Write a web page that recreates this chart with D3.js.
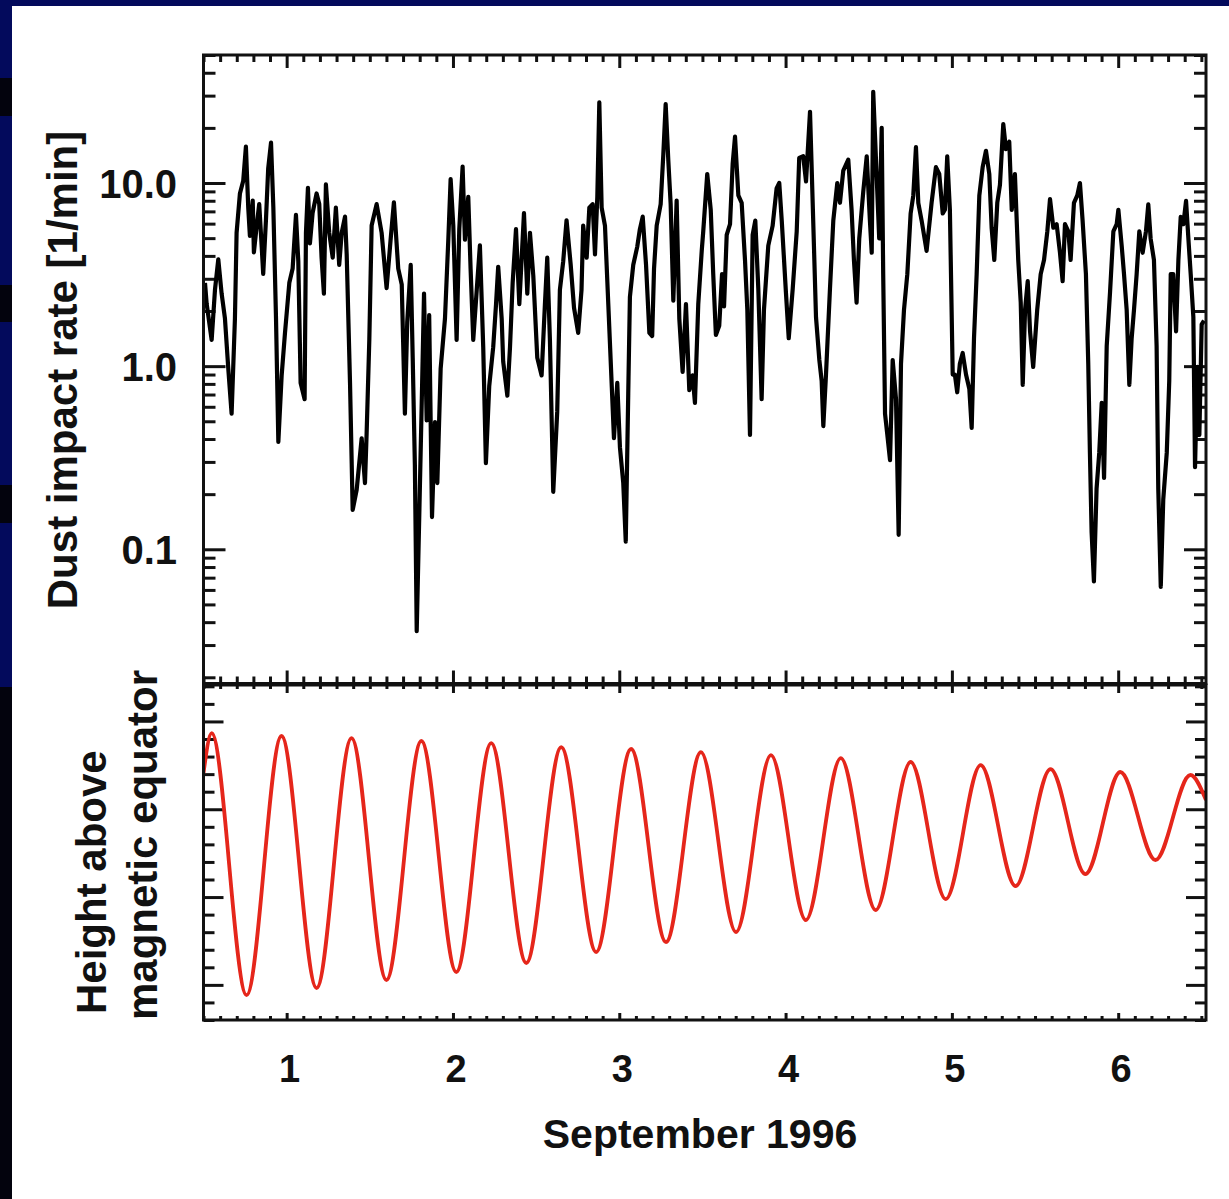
<!DOCTYPE html>
<html>
<head>
<meta charset="utf-8">
<script src="https://cdn.jsdelivr.net/npm/d3@7"></script>
<style>
  body { margin: 0; background: #030a5c; }
  svg { display: block; }
  text { font-family: "Liberation Sans", Arial, Helvetica, sans-serif; font-weight: bold; fill: #111; }
</style>
</head>
<body>
<div id="chart"></div>
<script>
/* dust impact rate (day of September 1996, impacts per minute) */
var dustDay = [0.509,0.519,0.549,0.569,0.589,0.609,0.629,0.649,0.669,0.689,0.699,0.719,0.739,0.755,0.769,0.779,0.796,0.803,0.820,0.835,
  0.850,0.859,0.876,0.889,0.906,0.920,0.936,0.950,0.970,0.990,1.016,1.036,1.056,1.070,1.084,1.108,1.116,1.128,1.140,1.156,
  1.180,1.196,1.210,1.224,1.236,1.256,1.277,1.296,1.316,1.331,1.351,1.361,1.381,1.397,1.421,1.451,1.471,1.481,1.497,1.511,
  1.541,1.571,1.601,1.625,1.645,1.671,1.692,1.711,1.725,1.746,1.758,1.771,1.782,1.797,1.812,1.826,1.842,1.857,1.874,1.892,
  1.906,1.926,1.952,1.972,1.986,2.002,2.022,2.038,2.058,2.072,2.092,2.106,2.122,2.143,2.162,2.182,2.198,2.218,2.242,2.259,
  2.272,2.293,2.302,2.327,2.343,2.359,2.379,2.399,2.427,2.447,2.463,2.483,2.507,2.533,2.553,2.567,2.583,2.603,2.627,2.643,
  2.663,2.683,2.708,2.728,2.753,2.773,2.783,2.804,2.820,2.840,2.854,2.868,2.880,2.894,2.914,2.934,2.954,2.968,2.988,3.004,
  3.024,3.039,3.054,3.064,3.084,3.108,3.124,3.141,3.161,3.181,3.198,3.209,3.225,3.249,3.265,3.279,3.295,3.309,3.325,3.345,
  3.361,3.381,3.401,3.421,3.441,3.455,3.475,3.496,3.505,3.529,3.550,3.565,3.581,3.601,3.618,3.630,3.646,3.666,3.682,3.696,
  3.716,3.736,3.756,3.770,3.786,3.802,3.818,3.836,3.856,3.870,3.896,3.922,3.946,3.962,3.977,4.002,4.019,4.043,4.067,4.082,
  4.106,4.123,4.147,4.163,4.183,4.203,4.217,4.227,4.243,4.267,4.287,4.311,4.327,4.347,4.377,4.397,4.411,4.427,4.443,4.467,
  4.488,4.507,4.518,4.527,4.548,4.563,4.578,4.587,4.598,4.612,4.628,4.644,4.664,4.680,4.694,4.712,4.732,4.752,4.768,4.784,
  4.798,4.818,4.848,4.878,4.904,4.924,4.945,4.958,4.972,4.988,5.005,5.018,5.032,5.048,5.065,5.085,5.105,5.119,5.133,5.149,
  5.165,5.185,5.205,5.225,5.239,5.255,5.273,5.289,5.309,5.325,5.345,5.360,5.379,5.399,5.414,5.426,5.440,5.456,5.470,5.489,
  5.513,5.534,5.554,5.574,5.590,5.610,5.630,5.650,5.666,5.680,5.700,5.714,5.734,5.754,5.770,5.786,5.806,5.820,5.830,5.840,
  5.854,5.870,5.886,5.901,5.915,5.931,5.951,5.971,5.991,6.001,6.021,6.035,6.051,6.067,6.081,6.095,6.111,6.127,6.147,6.167,
  6.181,6.195,6.215,6.231,6.241,6.256,6.271,6.292,6.307,6.316,6.331,6.348,6.362,6.376,6.392,6.408,6.422,6.436,6.452,6.462,
  6.476,6.488,6.502,6.516];
var dustRate = [2.85,2.19,1.39,2.61,3.83,2.49,1.82,0.97,0.55,1.82,5.35,8.77,10.3,15.8,7.33,5.14,8.02,4.18,5.86,7.67,
  4.48,3.19,6.41,12.0,16.6,7.33,1.82,0.386,0.89,1.52,2.85,3.41,6.70,3.74,0.81,0.66,5.35,9.40,4.68,6.86,
  8.77,7.67,3.91,2.49,9.82,5.35,3.91,7.33,3.57,5.35,6.55,4.08,0.81,0.164,0.211,0.404,0.230,0.432,1.39,5.86,
  7.67,5.35,2.67,4.90,7.85,3.41,2.79,0.55,1.74,3.57,1.11,0.288,0.0357,0.147,0.62,2.49,0.506,1.90,0.150,0.495,
  0.230,0.97,1.82,4.90,10.5,5.86,1.39,5.60,12.3,4.90,8.40,3.41,1.39,2.61,4.57,1.27,0.295,0.776,1.27,2.18,
  3.49,1.82,1.06,0.69,1.27,2.85,5.60,2.18,6.86,2.49,5.35,3.12,1.11,0.89,2.18,3.91,1.39,0.206,0.566,2.61,
  3.74,6.26,3.57,2.08,1.52,2.61,5.86,3.91,7.33,7.67,4.08,8.40,27.6,7.33,5.86,2.18,0.81,0.404,0.81,0.361,
  0.230,0.110,0.71,2.39,3.57,4.48,5.60,6.55,3.57,1.52,1.46,3.41,5.86,7.67,14.4,27.0,13.2,7.67,2.28,8.02,
  1.82,0.93,2.18,0.74,0.89,0.63,2.18,4.28,5.45,11.2,7.14,3.18,1.48,1.66,3.18,2.12,5.21,5.96,12.8,17.9,
  8.55,7.80,3.80,2.03,0.421,5.21,6.24,2.65,0.66,2.03,4.55,5.83,9.34,10.0,6.24,2.54,1.42,2.65,5.45,13.7,
  14.0,10.2,24.5,7.80,1.85,1.08,0.83,0.471,0.90,2.65,6.24,10.0,7.80,11.7,13.4,7.14,3.80,2.22,4.98,8.94,
  14.0,6.24,4.16,31.5,10.7,4.98,20.0,3.18,0.55,0.421,0.307,1.08,0.66,0.120,1.03,2.03,3.18,6.82,8.55,15.7,
  7.80,6.24,4.26,7.80,12.2,11.2,6.82,7.14,14.0,7.14,0.90,0.90,0.72,1.03,1.18,0.90,0.75,0.46,1.42,3.18,
  8.55,12.2,15.0,11.2,5.70,3.80,7.80,9.77,21.0,15.3,16.8,7.14,11.2,3.80,2.22,0.79,2.03,2.91,1.55,0.99,
  2.03,3.18,3.80,5.45,8.17,5.70,5.96,4.16,2.91,5.96,5.45,3.80,7.80,8.55,10.0,6.24,3.18,1.03,0.336,0.125,
  0.0667,0.214,0.336,0.63,0.245,1.29,2.54,5.45,5.96,7.14,4.55,3.18,2.03,0.79,1.42,2.03,3.18,5.45,4.16,5.45,
  7.64,4.98,3.80,1.29,0.214,0.0623,0.187,0.336,0.83,3.18,3.18,1.55,3.80,6.53,5.96,7.98,4.98,3.18,1.85,0.281,
  0.99,0.421,1.69,1.77];

/* height above the magnetic equator (no units shown): turning points of the red curve */
var heightDay = [0.500,0.549,0.759,0.969,1.180,1.390,1.600,1.810,2.020,2.230,2.441,2.651,2.861,3.071,3.281,3.491,
  3.702,3.912,4.122,4.332,4.542,4.752,4.963,5.173,5.383,5.593,5.803,6.013,6.224,6.434,6.528];
var heightVal = [0.412,0.868,-2.116,0.834,-2.036,0.811,-1.945,0.777,-1.854,0.754,-1.751,0.708,-1.626,0.686,-1.512,0.651,
  -1.399,0.617,-1.262,0.583,-1.148,0.538,-1.023,0.503,-0.875,0.458,-0.738,0.424,-0.578,0.390,0.105];

var dayTicks = [1, 2, 3, 4, 5, 6];
var rateTicks = [0.1, 1, 10];
var rateLabels = ["0.1", "1.0", "10.0"];
var heightTicks = [-2, -1, 0, 1];

var W = 1229, H = 1199;
var left = 203.5, right = 1206;
var top1 = 55, bot1 = 683.5, top2 = 685, bot2 = 1020;

var svg = d3.select("#chart").append("svg")
    .attr("width", W).attr("height", H);

/*Slide background: navy frame with dark marks on the left edge*/
svg.append("rect").attr("width", W).attr("height", H).attr("fill", "#030a5c");
[[78, 116], [285, 322], [485, 523], [687, 1199]].forEach(function(s){
    svg.append("rect").attr("x", 0).attr("y", s[0]).attr("width", 12).attr("height", s[1]-s[0]).attr("fill", "#03030d");
});
svg.append("rect").attr("x", 12).attr("y", 6).attr("width", W-12).attr("height", H-6).attr("fill", "#fff");

/*Scales*/
var x = d3.scaleLinear().domain([0.5, 6.528]).range([left, right]);
var yRate = d3.scaleLog().domain([0.0185, 50]).range([bot1, top1]);
var yHeight = d3.scaleLinear().domain([-2.4, 1.415]).range([bot2, top2]);

var dayMinor = d3.range(5, 66).map(function(i){ return i/10; }).filter(function(d){ return d % 1 !== 0; });
var rateMinor = [];
[0.01, 0.1, 1, 10].forEach(function(p){
    for (var k = 2; k <= 9; k++) {
        var v = k*p;
        if (v >= 0.0185 && v <= 50.01) rateMinor.push(v);
    }
});
var heightMinor = d3.range(-12, 8).map(function(i){ return i/5; }).filter(function(d){ return Math.abs(d - Math.round(d)) > 1e-6; });

/*Tick helper: inward ticks, no domain line*/
function ticks(axis, values, size, tx, ty) {
    var g = svg.append("g")
        .attr("transform", "translate(" + tx + "," + ty + ")")
        .call(axis.tickValues(values).tickSize(size).tickFormat(""));
    g.select(".domain").remove();
    g.selectAll(".tick line").attr("stroke", "#111").attr("stroke-width", 3);
    return g;
}

/*Top panel axes*/
ticks(d3.axisLeft(yRate), rateTicks, -22, left, 0);
ticks(d3.axisLeft(yRate), rateMinor, -12, left, 0);
ticks(d3.axisRight(yRate), rateTicks, -22, right, 0);
ticks(d3.axisRight(yRate), rateMinor, -12, right, 0);
ticks(d3.axisTop(x), dayTicks, -13, 0, top1);
ticks(d3.axisTop(x), dayMinor, -7, 0, top1);
ticks(d3.axisBottom(x), dayTicks, -13, 0, bot1);
ticks(d3.axisBottom(x), dayMinor, -7, 0, bot1);

/*Bottom panel axes*/
ticks(d3.axisLeft(yHeight), heightTicks, -20, left, 0);
ticks(d3.axisLeft(yHeight), heightMinor, -11, left, 0);
ticks(d3.axisRight(yHeight), heightTicks, -20, right, 0);
ticks(d3.axisRight(yHeight), heightMinor, -11, right, 0);
ticks(d3.axisTop(x), dayTicks, -8, 0, top2);
ticks(d3.axisTop(x), dayMinor, -4, 0, top2);
ticks(d3.axisBottom(x), dayTicks, -7, 0, bot2);
ticks(d3.axisBottom(x), dayMinor, -4, 0, bot2);

/*Tick labels*/
svg.append("g").selectAll("text")
    .data(rateTicks)
    .join("text")
    .attr("x", 177)
    .attr("y", function(d){ return yRate(d) + 15; })
    .attr("text-anchor", "end")
    .attr("font-size", 40)
    .text(function(d, i){ return rateLabels[i]; });

svg.append("g").selectAll("text")
    .data(dayTicks)
    .join("text")
    .attr("x", function(d){ return x(d) + 3; })
    .attr("y", 1082)
    .attr("text-anchor", "middle")
    .attr("font-size", 38)
    .text(function(d){ return d; });

/*Axis titles*/
svg.append("text")
    .attr("transform", "translate(77,370) rotate(-90)")
    .attr("text-anchor", "middle")
    .attr("font-size", 42)
    .text("Dust impact rate [1/min]");
svg.append("text")
    .attr("transform", "translate(106,1014) rotate(-90)")
    .attr("font-size", 42)
    .text("Height above");
svg.append("text")
    .attr("transform", "translate(157,1020) rotate(-90)")
    .attr("font-size", 42)
    .text("magnetic equator");
svg.append("text")
    .attr("x", 700).attr("y", 1148)
    .attr("text-anchor", "middle")
    .attr("font-size", 41)
    .text("September 1996");

/*Data lines*/
svg.append("clipPath").attr("id", "clip1")
    .append("rect").attr("x", left).attr("y", top1).attr("width", right-left).attr("height", bot1-top1);
svg.append("clipPath").attr("id", "clip2")
    .append("rect").attr("x", left).attr("y", top2).attr("width", right-left).attr("height", bot2-top2);

var dustLine = d3.line()
    .x(function(d, i){ return x(dustDay[i]); })
    .y(function(d, i){ return yRate(dustRate[i]); });
svg.append("path")
    .attr("clip-path", "url(#clip1)")
    .attr("fill", "none")
    .attr("stroke", "#000")
    .attr("stroke-width", 4.2)
    .attr("stroke-linejoin", "round")
    .attr("d", dustLine(dustDay));

var heightLine = d3.line()
    .curve(d3.curveMonotoneX)
    .x(function(d, i){ return x(heightDay[i]); })
    .y(function(d, i){ return yHeight(heightVal[i]); });
svg.append("path")
    .attr("clip-path", "url(#clip2)")
    .attr("fill", "none")
    .attr("stroke", "#e5261b")
    .attr("stroke-width", 3.8)
    .attr("d", heightLine(heightDay));

/*Plot frames*/
svg.append("rect").attr("x", left).attr("y", top1).attr("width", right-left).attr("height", bot1-top1)
    .attr("fill", "none").attr("stroke", "#111").attr("stroke-width", 3);
svg.append("rect").attr("x", left).attr("y", top2).attr("width", right-left).attr("height", bot2-top2)
    .attr("fill", "none").attr("stroke", "#111").attr("stroke-width", 3);
</script>
</body>
</html>
